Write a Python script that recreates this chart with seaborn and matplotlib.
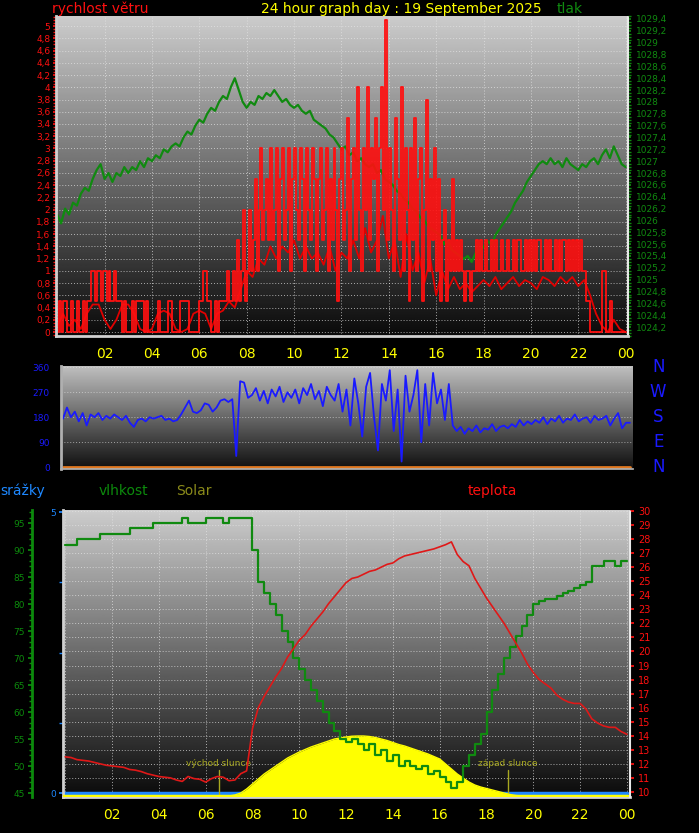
import numpy as np
import seaborn as sns
import matplotlib
matplotlib.use('Agg')
import matplotlib.pyplot as plt
from matplotlib.ticker import MultipleLocator, FixedLocator, FuncFormatter

# ---------------- data, 00:00 .. 24:00 ----------------
hours5 = np.arange(289) / 12.0     # 5 minute samples
hours10 = np.arange(145) / 6.0     # 10 minute samples
hours15 = np.arange(97) / 4.0      # 15 minute samples

# wind gust (m/s), 5 min, one row per hour
wind_gust = [0, 0.5, 0, 0.5, 0.5, 0, 0, 0.5, 0, 0, 0.5, 0,
             0, 0.5, 0, 0.5, 0.5, 1.0, 1.0, 0.5, 1.0, 1.0, 0.5, 1.0,
             1.0, 0.5, 1.0, 0.5, 0.5, 1.0, 0.5, 0.5, 0.5, 0, 0.5, 0,
             0, 0, 0.5, 0, 0.5, 0.5, 0.5, 0.5, 0, 0.5, 0, 0,
             0, 0, 0, 0.5, 0, 0, 0, 0, 0.5, 0.5, 0, 0,
             0, 0, 0.5, 0.5, 0.5, 0.5, 0.5, 0, 0, 0, 0, 0,
             0.5, 0.5, 1.0, 1.0, 0.5, 0.5, 0, 0, 0.5, 0, 0.5, 0.5,
             0.5, 0.5, 1.0, 0.5, 0.5, 1.0, 0.5, 1.5, 0.5, 1.0, 2.0, 0.5,
             1.0, 2.0, 1.0, 1.5, 2.5, 1.0, 2.0, 3.0, 1.5, 2.0, 2.5, 1.5,
             3.0, 1.5, 2.0, 3.0, 1.0, 2.5, 3.0, 1.5, 2.0, 3.0, 1.0, 2.5,
             3.0, 2.0, 1.5, 3.0, 2.5, 1.0, 3.0, 2.0, 1.5, 3.0, 2.5, 1.0,
             2.5, 3.0, 1.5, 2.0, 3.0, 1.0, 2.5, 1.5, 3.0, 2.0, 0.5, 2.5,
             3.0, 1.5, 2.0, 3.5, 1.0, 2.5, 3.0, 1.5, 4.0, 2.0, 1.0, 3.0,
             2.0, 4.0, 1.5, 3.0, 2.5, 3.5, 1.0, 3.0, 4.0, 2.0, 5.1, 1.5,
             3.0, 2.0, 1.0, 3.5, 2.5, 1.5, 4.0, 1.0, 3.0, 2.0, 0.5, 3.0,
             1.5, 3.5, 1.0, 2.5, 3.0, 0.5, 2.0, 3.8, 1.0, 2.5, 1.5, 3.0,
             1.0, 2.5, 0.5, 1.5, 2.0, 0.5, 1.5, 1.0, 2.5, 1.0, 1.5, 1.0,
             1.5, 1.0, 0.5, 1.0, 1.0, 0.5, 1.0, 1.0, 1.5, 1.0, 1.5, 1.0,
             1.0, 1.5, 1.0, 1.0, 1.5, 1.0, 1.5, 1.0, 1.0, 1.5, 1.0, 1.0,
             1.5, 1.0, 1.0, 1.5, 1.0, 1.5, 1.5, 1.0, 1.0, 1.5, 1.0, 1.5,
             1.0, 1.5, 1.0, 1.5, 1.5, 1.0, 1.0, 1.5, 1.0, 1.5, 1.0, 1.0,
             1.5, 1.0, 1.5, 1.0, 1.5, 1.5, 1.0, 1.5, 1.0, 1.5, 1.0, 1.5,
             1.0, 1.5, 1.0, 1.0, 0.5, 0.5, 0, 0, 0, 0, 0, 0,
             1.0, 1.0, 0, 0, 0.5, 0, 0, 0, 0, 0, 0, 0,
             0]

# mean wind (m/s), 15 min
wind_avg = [0.1, 0.3, 0.1, 0.2, 0.05, 0.3, 0.45, 0.45, 0.2, 0.05, 0.2, 0.45, 0.45, 0.3, 0.05, 0.0,
            0.05, 0.3, 0.35, 0.3, 0.05, 0.0, 0.05, 0.3, 0.35, 0.3, 0.05, 0.3, 0.35, 0.5, 0.4, 0.7,
            1.0, 0.9, 1.2, 1.1, 1.4, 1.2, 1.4, 1.3, 1.5, 1.2, 1.4, 1.2, 1.3, 1.1, 1.4, 1.0,
            1.3, 1.2, 1.5, 1.2, 1.7, 1.3, 1.5, 1.9, 1.2, 1.5, 0.9, 1.6, 1.0, 1.3, 0.8, 1.2,
            0.6, 1.0, 0.7, 0.9, 0.7, 0.8, 0.65, 0.75, 0.85, 0.75, 0.9, 0.7, 0.8, 0.9, 0.75, 0.85,
            0.8, 0.7, 0.9, 0.85, 0.75, 0.9, 0.8, 0.9, 0.75, 0.85, 0.6, 0.3, 0.1, 0.0, 0.2, 0.05, 0.0]

# pressure (hPa), 10 min
pressure = [1026.1, 1025.95, 1026.2, 1026.1, 1026.3, 1026.25,
            1026.45, 1026.55, 1026.5, 1026.7, 1026.85, 1026.95,
            1026.7, 1026.8, 1026.65, 1026.8, 1026.75, 1026.9,
            1026.8, 1026.9, 1026.85, 1027.0, 1026.9, 1027.05,
            1027.0, 1027.1, 1027.05, 1027.2, 1027.15, 1027.25,
            1027.3, 1027.25, 1027.4, 1027.5, 1027.45, 1027.6,
            1027.7, 1027.65, 1027.8, 1027.9, 1027.85, 1028.0,
            1028.1, 1028.05, 1028.25, 1028.4, 1028.2, 1028.0,
            1027.9, 1028.0, 1027.95, 1028.1, 1028.05, 1028.15,
            1028.1, 1028.2, 1028.1, 1028.0, 1028.05, 1027.95,
            1027.9, 1027.95, 1027.85, 1027.8, 1027.85, 1027.7,
            1027.65, 1027.6, 1027.55, 1027.45, 1027.4, 1027.3,
            1027.2, 1027.25, 1027.1, 1027.15, 1027.0, 1027.05,
            1026.95, 1026.9, 1026.95, 1026.8, 1026.85, 1026.7,
            1026.65, 1026.6, 1026.5, 1026.45, 1026.35, 1026.3,
            1026.2, 1026.15, 1026.05, 1026.0, 1025.9, 1025.85,
            1025.8, 1025.75, 1025.6, 1025.65, 1025.5, 1025.45,
            1025.4, 1025.35, 1025.4, 1025.3, 1025.45, 1025.5,
            1025.55, 1025.65, 1025.6, 1025.75, 1025.85, 1025.95,
            1026.05, 1026.15, 1026.3, 1026.4, 1026.5, 1026.65,
            1026.75, 1026.85, 1026.95, 1027.0, 1026.95, 1027.05,
            1026.95, 1027.0, 1026.9, 1027.05, 1026.95, 1026.9,
            1026.85, 1026.95, 1026.9, 1027.0, 1027.05, 1026.95,
            1027.1, 1027.2, 1027.05, 1027.25, 1027.1, 1026.95,
            1026.9]

# wind direction (deg), 10 min
wind_dir = [175, 215, 180, 200, 165, 195,
            150, 190, 180, 195, 170, 185,
            175, 190, 180, 170, 185, 160,
            145, 170, 175, 165, 180, 175,
            180, 185, 170, 175, 165, 170,
            190, 215, 240, 200, 195, 205,
            230, 225, 200, 215, 240, 245,
            235, 245, 40, 310, 305, 250,
            260, 285, 240, 275, 230, 280,
            255, 290, 235, 270, 250, 280,
            230, 285, 260, 300, 245, 275,
            220, 290, 260, 240, 300, 200,
            280, 150, 320, 230, 110, 290,
            340, 180, 60, 300, 240, 350,
            130, 280, 20, 330, 200, 260,
            350, 90, 300, 150, 340, 230,
            280, 170, 300, 150, 130, 145,
            120, 140, 130, 150, 125, 140,
            135, 155, 130, 145, 150, 140,
            155, 145, 170, 150, 165, 155,
            170, 160, 180, 155, 175, 165,
            185, 160, 175, 170, 190, 165,
            175, 180, 160, 185, 170, 175,
            185, 150, 175, 195, 140, 160,
            160]
wind_dir_avg = [0.0] * 97

# humidity (%), temperature (C), solar (W/m2), rain (mm) - 15 min
humidity = [91, 91, 92, 92, 92, 92, 93, 93, 93, 93, 93, 94, 94, 94, 94, 95,
            95, 95, 95, 95, 96, 95, 95, 95, 96, 96, 96, 95, 96, 96, 96, 96,
            90, 84, 82, 80, 78, 75, 73, 70, 68, 66, 64, 62, 60, 58, 56.5, 55,
            54.5, 55, 54, 53, 54, 52, 53, 51, 52, 50, 51, 50, 49.5, 50, 48.5, 49,
            48, 47, 46, 47, 50, 52, 54, 56, 60, 64, 67, 70, 72, 74, 76, 78,
            80, 80.5, 81, 81, 81.5, 82, 82.5, 83, 83.5, 84, 87, 87, 88, 88, 87, 88,
            88]

temperature = [12.5, 12.45, 12.3, 12.25, 12.2, 12.1, 12.0, 11.9, 11.85, 11.8, 11.75, 11.6,
               11.55, 11.45, 11.3, 11.2, 11.1, 11.05, 11.0, 10.85, 10.75, 11.1, 10.95, 10.9,
               10.7, 10.95, 11.1, 11.05, 10.8, 10.85, 11.3, 11.5, 14.5, 16.0, 16.8, 17.5,
               18.2, 18.8, 19.6, 20.2, 20.8, 21.2, 21.8, 22.3, 22.8, 23.4, 23.9, 24.4,
               24.9, 25.2, 25.3, 25.5, 25.7, 25.8, 26.0, 26.2, 26.3, 26.6, 26.8, 26.9,
               27.0, 27.1, 27.2, 27.3, 27.45, 27.6, 27.8, 26.9, 26.4, 26.1, 25.2, 24.5,
               23.8, 23.2, 22.6, 22.0, 21.3, 20.6, 19.9, 19.1, 18.5, 18.0, 17.7, 17.4,
               16.9, 16.6, 16.4, 16.3, 16.3, 15.9, 15.2, 14.9, 14.7, 14.6, 14.6, 14.3,
               14.1]

solar = [0] * 28 + [0, 10, 30, 70, 120, 170, 220, 260, 300, 340, 380, 410,
                    440, 465, 490, 510, 530, 550, 570, 580, 590, 598, 600, 600,
                    595, 585, 570, 555, 535, 515, 500, 480, 460, 440, 420, 395,
                    370, 320, 270, 220, 180, 140, 110, 90, 75, 60, 45, 30,
                    15, 5, 0] + [0] * 18

rain = [0.0] * 97

hour_ticks = [2, 4, 6, 8, 10, 12, 14, 16, 18, 20, 22, 24]
hour_labels = ['02', '04', '06', '08', '10', '12', '14', '16', '18', '20', '22', '00']
compass = ['N', 'W', 'S', 'E', 'N']
compass_deg = [360, 270, 180, 90, 0]
sunrise = 6.55
sunset = 18.9

# ---------------- style ----------------
sns.set_theme(style='dark')
plt.rcParams['font.family'] = ['DejaVu Sans']

RED = '#ff1010'
GREEN = '#108a10'
YELLOW = '#ffff00'
BLUE = '#1a1aff'
SKY = '#1e88ff'
OLIVE = '#a8a820'
SPINE = '#d0d0d0'

W, H = 699, 833
fig = plt.figure(figsize=(W / 100, H / 100), dpi=100, facecolor='black')


def rect(x0, y0, x1, y1):
    return [x0 / W, 1 - y1 / H, (x1 - x0) / W, (y1 - y0) / H]


def comma(v, pos):
    return f'{round(v, 2):g}'.replace('.', ',')


def background(r, xlim, ylim, ystep, xstep=2, top=0.80, bottom=0.04):
    bg = fig.add_axes(r, zorder=-5)
    grad = np.linspace(top, bottom, 256).reshape(-1, 1)
    bg.imshow(grad, extent=[xlim[0], xlim[1], ylim[0], ylim[1]], aspect='auto',
              cmap='gray', vmin=0, vmax=1, zorder=0)
    bg.set_xlim(xlim)
    bg.set_ylim(ylim)
    bg.yaxis.set_major_locator(MultipleLocator(ystep))
    if xstep:
        bg.xaxis.set_major_locator(MultipleLocator(xstep))
        bg.grid(True, color='#e6e6e6', linestyle=(0, (1, 2)), linewidth=0.7, alpha=0.7)
    else:
        bg.grid(True, axis='y', color='#e6e6e6', linestyle=(0, (1, 2)), linewidth=0.7, alpha=0.6)
    bg.tick_params(length=0, labelleft=False, labelbottom=False)
    for s in bg.spines.values():
        s.set_visible(False)
    return bg


def hour_axis(ax, labels=True):
    ax.xaxis.set_major_locator(FixedLocator(hour_ticks))
    ax.xaxis.set_minor_locator(MultipleLocator(0.5))
    if labels:
        ax.set_xticklabels(hour_labels)
    ax.tick_params(axis='x', which='both', colors='#bbbbbb', length=3, width=1,
                   labelcolor=YELLOW, labelsize=10, pad=5, labelbottom=labels)


# ================= top panel: wind speed + pressure =================
r1 = rect(56, 16, 628, 336)
xl1 = (-0.05, 24.1)
wl = (-0.065, 5.165)
pl = (1024.05, 1029.45)
background(r1, xl1, wl, 0.2)

ax_w = fig.add_axes(r1)
ax_w.set_facecolor('none')
ax_p = ax_w.twinx()
ax_w.set_zorder(ax_p.get_zorder() + 1)
ax_w.patch.set_visible(False)
ax_p.patch.set_visible(False)

sns.lineplot(x=hours10, y=pressure, ax=ax_p, color=GREEN, linewidth=1.6)
sns.lineplot(x=hours15, y=wind_avg, ax=ax_w, color='#e00000', linewidth=1.3)
sns.lineplot(x=hours5, y=wind_gust, ax=ax_w, color=RED, linewidth=1.3, drawstyle='steps-post')

ax_w.set_xlim(xl1)
ax_w.set_ylim(wl)
ax_p.set_ylim(pl)
ax_w.set_xlabel('')
ax_w.set_ylabel('')
ax_p.set_ylabel('')
hour_axis(ax_w)
ax_w.yaxis.set_major_locator(MultipleLocator(0.2))
ax_w.yaxis.set_minor_locator(MultipleLocator(0.05))
ax_w.yaxis.set_major_formatter(FuncFormatter(comma))
ax_w.tick_params(axis='y', which='both', colors=RED, labelsize=6.5, length=2, pad=2)
ax_p.yaxis.set_major_locator(MultipleLocator(0.2))
ax_p.yaxis.set_minor_locator(MultipleLocator(0.05))
ax_p.yaxis.set_major_formatter(FuncFormatter(comma))
ax_p.tick_params(axis='y', which='both', colors=GREEN, labelsize=6.5, length=2, pad=4)
for a in (ax_w, ax_p):
    for s in a.spines.values():
        s.set_visible(False)
ax_w.spines['left'].set_visible(True)
ax_w.spines['left'].set_color(SPINE)
ax_w.spines['left'].set_linewidth(2)
ax_w.spines['bottom'].set_visible(True)
ax_w.spines['bottom'].set_color(SPINE)
ax_w.spines['bottom'].set_linewidth(2)
ax_p.spines['right'].set_visible(True)
ax_p.spines['right'].set_color('#e8e8e8')
ax_p.spines['right'].set_linestyle((0, (1, 1)))
ax_p.spines['right'].set_linewidth(1.5)

fig.text(52 / W, 1 - 9 / H, 'rychlost větru', color=RED, fontsize=10, va='center', ha='left')
fig.text(401 / W, 1 - 9 / H, '24 hour graph day : 19 September 2025', color=YELLOW,
         fontsize=10, va='center', ha='center')
fig.text(557 / W, 1 - 9 / H, 'tlak', color=GREEN, fontsize=10, va='center', ha='left')

# ================= middle panel: wind direction =================
r2 = rect(61, 366, 633, 469)
xl2 = (-0.085, 24.13)
dl = (-7, 365)
background(r2, xl2, dl, 90, xstep=0, top=0.75, bottom=0.06)
ax_d = fig.add_axes(r2)
ax_d.set_facecolor('none')
sns.lineplot(x=hours15, y=wind_dir_avg, ax=ax_d, color='#e07820', linewidth=2)
sns.lineplot(x=hours10, y=wind_dir, ax=ax_d, color=BLUE, linewidth=1.3)
ax_d.set_xlim(xl2)
ax_d.set_ylim(dl)
ax_d.set_xlabel('')
ax_d.set_ylabel('')
hour_axis(ax_d, labels=False)
ax_d.yaxis.set_major_locator(MultipleLocator(90))
ax_d.yaxis.set_minor_locator(MultipleLocator(22.5))
ax_d.tick_params(axis='y', which='both', colors=BLUE, labelsize=6.5, length=2, pad=6)
for s in ax_d.spines.values():
    s.set_visible(False)
ax_d.spines['left'].set_visible(True)
ax_d.spines['left'].set_color('#b0b0b0')
ax_d.spines['left'].set_linewidth(2)
ax_d.spines['bottom'].set_visible(True)
ax_d.spines['bottom'].set_color('#b0b0b0')
for lab, deg in zip(compass, compass_deg):
    ax_d.text(1.044, deg, lab, transform=ax_d.get_yaxis_transform(), color=BLUE,
              fontsize=12, ha='center', va='center')

# ================= bottom panel: rain, humidity, solar, temperature =================
r3 = rect(63, 510, 630, 797)
xl3 = (-0.094, 24.13)
rl = (-0.071, 5.036)
hl = (44.26, 97.41)
tl = (9.64, 30.07)
sl = (-10, 2860)
background(r3, xl3, tl, 1)

ax_r = fig.add_axes(r3)
ax_r.set_facecolor('none')
ax_s = ax_r.twinx()
ax_h = ax_r.twinx()
ax_t = ax_r.twinx()
for a in (ax_s, ax_h, ax_t):
    a.patch.set_visible(False)

ax_s.fill_between(hours15, solar, 0, color=YELLOW, linewidth=0, zorder=1)
sns.lineplot(x=hours15, y=solar, ax=ax_s, color=YELLOW, linewidth=1.0)
ax_s.axhline(0, color=YELLOW, linewidth=2.5)
sns.lineplot(x=hours15, y=rain, ax=ax_r, color=SKY, linewidth=2.5)
sns.lineplot(x=hours15, y=humidity, ax=ax_h, color=GREEN, linewidth=1.6, drawstyle='steps-post')
sns.lineplot(x=hours15, y=temperature, ax=ax_t, color='#e01818', linewidth=1.2)

ax_r.set_xlim(xl3)
ax_r.set_ylim(rl)
ax_s.set_ylim(sl)
ax_h.set_ylim(hl)
ax_t.set_ylim(tl)
for a in (ax_r, ax_s, ax_h, ax_t):
    a.set_xlabel('')
    a.set_ylabel('')
    for s in a.spines.values():
        s.set_visible(False)
hour_axis(ax_r)

ax_r.yaxis.set_major_locator(FixedLocator([0, 5]))
ax_r.yaxis.set_minor_locator(MultipleLocator(1.25))
ax_r.tick_params(axis='y', which='both', colors=SKY, labelsize=6.5, length=3, pad=2)
ax_r.spines['left'].set_visible(True)
ax_r.spines['left'].set_color(SPINE)
ax_r.spines['left'].set_linewidth(2)
ax_r.spines['bottom'].set_visible(True)
ax_r.spines['bottom'].set_color(SPINE)
ax_r.spines['bottom'].set_linewidth(2)

ax_s.set_yticks([])

ax_h.yaxis.tick_left()
ax_h.spines['left'].set_visible(True)
ax_h.spines['left'].set_position(('outward', 22.3))
ax_h.spines['left'].set_color('#0c8a0c')
ax_h.spines['left'].set_linewidth(2)
ax_h.yaxis.set_major_locator(MultipleLocator(5))
ax_h.yaxis.set_minor_locator(MultipleLocator(1))
ax_h.tick_params(axis='y', which='major', colors='#0c8a0c', labelsize=6.5, length=3, pad=2)
ax_h.tick_params(axis='y', which='minor', colors='#0c8a0c', length=2)

ax_t.yaxis.set_major_locator(MultipleLocator(1))
ax_t.tick_params(axis='y', colors=RED, labelsize=7, length=3, pad=3)
ax_t.spines['right'].set_visible(True)
ax_t.spines['right'].set_color('#e8e8e8')
ax_t.spines['right'].set_linestyle((0, (1, 1)))
ax_t.spines['right'].set_linewidth(1.5)

for t, name in ((sunrise, 'východ slunce'), (sunset, 'západ slunce')):
    ax_r.axvline(t, ymin=0, ymax=0.094, color=OLIVE, linewidth=1)
    ax_r.text(t, 0.118, name, transform=ax_r.get_xaxis_transform(), color=OLIVE,
              fontsize=6.5, ha='center', va='center')

ty = 1 - 491 / H
fig.text(0 / W, ty, 'srážky', color=SKY, fontsize=10, va='center', ha='left')
fig.text(99 / W, ty, 'vlhkost', color='#0c8a0c', fontsize=10, va='center', ha='left')
fig.text(176 / W, ty, 'Solar', color='#8a8a1a', fontsize=10, va='center', ha='left')
fig.text(468 / W, ty, 'teplota', color=RED, fontsize=10, va='center', ha='left')

fig.savefig('out.png', dpi=100, facecolor='black')
